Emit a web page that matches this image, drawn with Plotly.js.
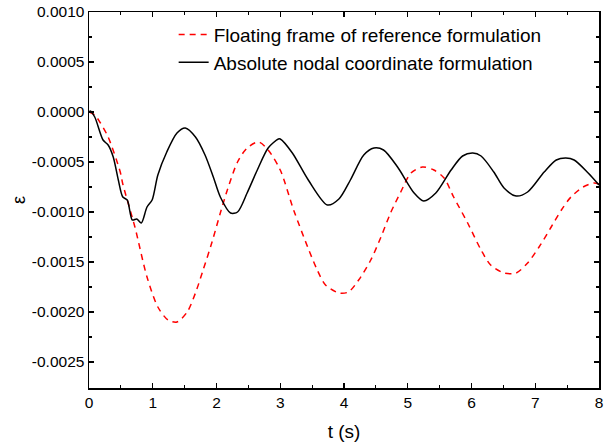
<!DOCTYPE html>
<html>
<head>
<meta charset="utf-8">
<script src="https://cdn.plot.ly/plotly-3.0.1.min.js"></script>
<style>html,body{margin:0;padding:0;background:#fff;}#chart{width:607px;height:445px;}</style>
</head>
<body>
<div id="chart"></div>
<script>
// Floating frame of reference formulation (red dashed)
const ffrT = [0, 0.09, 0.17, 0.3, 0.49, 0.53, 0.72, 0.91, 1.08, 1.24, 1.38, 1.54, 1.67, 1.79, 1.93, 2.06, 2.17, 2.33, 2.48, 2.66, 2.81, 3.0, 3.21, 3.43, 3.58, 3.71, 3.92, 4.07, 4.23, 4.42, 4.58, 4.73, 4.89, 5.05, 5.23, 5.41, 5.57, 5.72, 5.94, 6.15, 6.3, 6.51, 6.7, 6.88, 7.06, 7.25, 7.41, 7.56, 7.75, 7.92, 8.0];
const ffrE = [0, -0.00003, -0.0001, -0.00025, -0.0006, -0.00072, -0.00115, -0.00165, -0.00195, -0.00208, -0.0021, -0.002, -0.00181, -0.00158, -0.0013, -0.00101, -0.00078, -0.0005, -0.00036, -0.0003, -0.00038, -0.00058, -0.00098, -0.00135, -0.00158, -0.00173, -0.00181, -0.0018, -0.00168, -0.00148, -0.00125, -0.00101, -0.0008, -0.00061, -0.00055, -0.00058, -0.00066, -0.00085, -0.00111, -0.00138, -0.00153, -0.00161, -0.00161, -0.00151, -0.00135, -0.00115, -0.00098, -0.00085, -0.00075, -0.00071, -0.00072];
// Absolute nodal coordinate formulation (black solid)
const ancfT = [0, 0.02, 0.09, 0.22, 0.3, 0.38, 0.46, 0.53, 0.6, 0.68, 0.75, 0.82, 0.91, 0.99, 1.08, 1.22, 1.38, 1.51, 1.67, 1.82, 1.95, 2.06, 2.22, 2.33, 2.48, 2.64, 2.81, 2.97, 3.0, 3.19, 3.44, 3.74, 3.92, 4.1, 4.31, 4.47, 4.62, 4.84, 5.1, 5.25, 5.44, 5.68, 5.86, 6.02, 6.15, 6.35, 6.51, 6.7, 6.88, 7.14, 7.33, 7.48, 7.61, 7.83, 8.0];
const ancfE = [0, 0.00001, -0.00005, -0.00028, -0.00033, -0.00045, -0.00068, -0.00085, -0.00088, -0.00108, -0.00107, -0.00111, -0.00095, -0.00088, -0.00063, -0.0004, -0.00021, -0.00016, -0.00025, -0.00043, -0.00065, -0.00085, -0.00101, -0.001, -0.00081, -0.00058, -0.00036, -0.00027, -0.00027, -0.00041, -0.00068, -0.00093, -0.00087, -0.00068, -0.00043, -0.00036, -0.00038, -0.00055, -0.00081, -0.00089, -0.00081, -0.00058, -0.00044, -0.00041, -0.00044, -0.0006, -0.00076, -0.00084, -0.0008, -0.0006, -0.00048, -0.00046, -0.00048, -0.00061, -0.00073];

const yTickVals = [0.001, 0.0005, 0, -0.0005, -0.001, -0.0015, -0.002, -0.0025];
const yTickText = ["0.0010", "0.0005", "0.0000", "-0.0005", "-0.0010", "-0.0015", "-0.0020", "-0.0025"];
const xTickVals = [0, 1, 2, 3, 4, 5, 6, 7, 8];

const data = [
  {x: ffrT, y: ffrE, mode: 'lines', name: 'Floating frame of reference formulation',
   line: {color: '#ff0000', width: 1.5, dash: '6px,5px', shape: 'spline', smoothing: 0.8}},
  {x: ancfT, y: ancfE, mode: 'lines', name: 'Absolute nodal coordinate formulation',
   line: {color: '#000000', width: 1.5, shape: 'spline', smoothing: 0.8}}
];

const axisCommon = {
  showline: true, linecolor: '#000', linewidth: 1.5, mirror: 'ticks',
  ticks: 'inside', ticklen: 5, tickwidth: 1.2, tickcolor: '#000',
  showgrid: false, zeroline: false,
  tickfont: {family: 'Liberation Sans, Arial, sans-serif', size: 15.5, color: '#000'}
};

const layout = {
  width: 607, height: 445,
  margin: {l: 89, r: 8, t: 12, b: 57},
  paper_bgcolor: '#fff', plot_bgcolor: '#fff',
  font: {family: 'Liberation Sans, Arial, sans-serif', color: '#000'},
  showlegend: true,
  legend: {x: 0.166, y: 0.99, xanchor: 'left', yanchor: 'top', bgcolor: 'rgba(0,0,0,0)',
    font: {size: 19, color: '#000'}, tracegroupgap: 0},
  xaxis: Object.assign({}, axisCommon, {
    range: [0, 8], tickmode: 'array', tickvals: xTickVals, ticktext: xTickVals.map(String),
    minor: {tickmode: 'linear', tick0: 0, dtick: 0.5, ticks: 'inside', ticklen: 3, tickcolor: '#000', showgrid: false},
    title: {text: 't (s)', font: {size: 19, color: '#000'}, standoff: 14}
  }),
  yaxis: Object.assign({}, axisCommon, {
    range: [-0.00276, 0.001], tickmode: 'array', tickvals: yTickVals, ticktext: yTickText,
    minor: {tickmode: 'linear', tick0: 0, dtick: 0.00025, ticks: 'inside', ticklen: 3, tickcolor: '#000', showgrid: false},
    title: {text: 'ε', font: {size: 18, color: '#000'}, standoff: 1}
  })
};

Plotly.newPlot('chart', data, layout, {staticPlot: true, displayModeBar: false});
</script>
</body>
</html>
